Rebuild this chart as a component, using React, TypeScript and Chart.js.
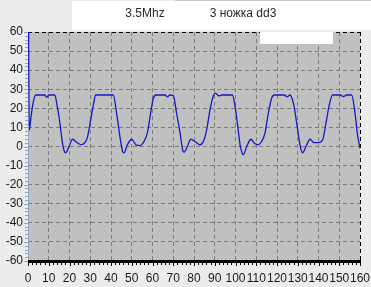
import React, { useEffect, useRef } from "react";
import { Chart, registerables } from "chart.js";

Chart.register(...registerables);

const chartTitleLeft = "3.5Mhz";
const chartTitleRight = "3 ножка dd3";

const xMin = 0;
const xMax = 160;
const yMin = -60;
const yMax = 60;

// sample positions (x) and signal values (y)
const xValues = [
  0, 0.6, 1.5, 2.5, 3.7, 8, 9, 10.1, 12.9, 14.1, 15.4, 16.5, 17.5, 18.2, 19, 19.8, 21.4, 23.8, 25.7, 27.8,
  28.9, 30.2, 31.5, 32.6, 41.1, 42.7, 44.3, 45.6, 46.3, 47.9, 50, 52, 54, 55.9, 57.5, 59.1, 60.4, 61.7,
  66, 67.2, 68.4, 70, 71.6, 73.3, 74.5, 75.2, 76.8, 78.4, 80.5, 82.9, 84.5, 86.1, 87.7, 89.3, 90.4, 92,
  93.3, 98.5, 99.8, 101.1, 102.2, 103.3, 103.8, 105.4, 107.5, 109.1, 111, 112.6, 114.2, 115.8, 117.4,
  118.7, 123.5, 125, 126.3, 127.9, 129.5, 130.8, 131.9, 132.4, 134, 135.9, 137.8, 139.9, 142, 143.6,
  145.2, 146.8, 150.4, 152, 153.6, 156, 157.6, 158.7, 160,
];
const yValues = [
  150, 8.5, 16, 23, 27, 27, 25.8, 27, 27, 21, 12, 2.6, -2.5, -3.3, -2, 0, 3.8, 2, 0.9, 2.6,
  6, 14, 21.8, 27, 27, 17.5, 5.2, -2.6, -3.3, 0.9, 3.8, 0.9, 0.5, 2.6, 7, 17.5, 25.3, 27,
  27, 26, 27, 26.8, 17.5, 7, -1.7, -3, 0, 3.8, 2.6, 0.9, 2.6, 8.7, 19.2, 26.5, 28, 26.5,
  27, 27, 21, 10.5, 0.9, -3.8, -4.3, 0, 3.8, 1.7, 0.9, 2.6, 7, 17.5, 25.3,
  27, 27, 26, 27, 22.7, 12.2, 2.6, -2.6, -3.3, 0, 3.8, 2, 2, 3.5, 12.2,
  21.8, 27, 27, 26.2, 27, 27, 17.5, 7, -1,
];

const FONT = '"Liberation Sans", Arial, sans-serif';

const decorPlugin = {
  id: "decor",
  beforeDraw(chart: any) {
    const ctx = chart.ctx;
    const { width, height } = chart;
    ctx.save();
    ctx.fillStyle = "#ececec";
    ctx.fillRect(0, 0, width, height);
    ctx.fillStyle = "#ffffff";
    ctx.fillRect(72, 1, width - 72, 29);
    ctx.fillStyle = "#c8c8c8";
    ctx.fillRect(175, 0, width - 175, 1);
    const ca = chart.chartArea;
    ctx.fillStyle = "#c0c0c0";
    ctx.fillRect(ca.left, ca.top, ca.right - ca.left, ca.bottom - ca.top);
    ctx.fillStyle = "#2a2a2a";
    ctx.font = `12px ${FONT}`;
    ctx.textAlign = "center";
    ctx.textBaseline = "middle";
    ctx.fillText(chartTitleLeft, 145, 14);
    ctx.fillText(chartTitleRight, 243, 14);
    ctx.restore();
  },
  beforeDatasetsDraw(chart: any) {
    const ctx = chart.ctx;
    const ca = chart.chartArea;
    const xs = chart.scales.x;
    const ys = chart.scales.y;
    ctx.save();
    // top & right dashed black border
    ctx.strokeStyle = "#000000";
    ctx.lineWidth = 1;
    ctx.setLineDash([4, 3]);
    ctx.beginPath();
    ctx.moveTo(ca.left, ca.top + 0.5);
    ctx.lineTo(ca.right, ca.top + 0.5);
    ctx.moveTo(Math.round(ca.right) + 0.5, ca.top);
    ctx.lineTo(Math.round(ca.right) + 0.5, ca.bottom);
    ctx.stroke();
    ctx.setLineDash([]);
    // legend box (empty)
    ctx.fillStyle = "#ffffff";
    ctx.fillRect(260, ca.top, 73, 12);
    // left axis: light blue
    ctx.strokeStyle = "#8aa6c8";
    ctx.beginPath();
    ctx.moveTo(Math.round(ca.left) + 0.5, ca.top);
    ctx.lineTo(Math.round(ca.left) + 0.5, ca.bottom);
    for (let v = yMin; v <= yMax; v += 2) {
      const py = Math.round(ys.getPixelForValue(v)) + 0.5;
      const len = v % 10 === 0 ? 4 : 3;
      ctx.moveTo(ca.left - len, py);
      ctx.lineTo(ca.left, py);
    }
    ctx.stroke();
    // bottom axis: thick black
    ctx.fillStyle = "#000000";
    ctx.fillRect(ca.left, ca.bottom - 1, ca.right - ca.left + 1, 3);
    ctx.strokeStyle = "#000000";
    ctx.beginPath();
    for (let v = xMin; v <= xMax; v += 2) {
      const px = Math.round(xs.getPixelForValue(v)) + 0.5;
      const len = v % 10 === 0 ? 4 : 3;
      ctx.moveTo(px, ca.bottom + 1);
      ctx.lineTo(px, ca.bottom + 1 + len);
    }
    ctx.stroke();
    ctx.restore();
  },
};

export default function App() {
  const ref = useRef<HTMLCanvasElement | null>(null);
  useEffect(() => {
    document.body.style.margin = "0";
    const canvas = ref.current!;
    const points = xValues.map((x, i) => ({ x, y: yValues[i] }));
    const chart = new Chart(canvas, {
      type: "line",
      data: {
        datasets: [
          {
            data: points,
            borderColor: "#1616c8",
            borderWidth: 1.3,
            pointRadius: 0,
            fill: false,
            cubicInterpolationMode: "monotone",
          },
        ],
      },
      options: {
        responsive: false,
        animation: false,
        devicePixelRatio: 1,
        layout: { padding: { top: 32, right: 11, left: 0, bottom: 0 } },
        plugins: {
          legend: { display: false },
          tooltip: { enabled: false },
          title: { display: false },
        },
        scales: {
          x: {
            type: "linear",
            min: xMin,
            max: xMax,
            afterFit(scale: any) {
              scale.height = 26;
              scale.paddingLeft = 0;
              scale.paddingRight = 0;
            },
            ticks: {
              stepSize: 10,
              color: "#1a1a1a",
              font: { family: FONT, size: 12 },
              padding: 10,
              maxRotation: 0,
              autoSkip: false,
            },
            grid: { color: "#7c7c7c", lineWidth: 1, drawTicks: false },
            border: { display: false, dash: [4, 3] },
          },
          y: {
            min: yMin,
            max: yMax,
            afterFit(scale: any) {
              scale.width = 28;
              scale.paddingTop = 0;
              scale.paddingBottom = 0;
            },
            ticks: {
              stepSize: 10,
              color: "#1a1a1a",
              font: { family: FONT, size: 12 },
              padding: 5,
              autoSkip: false,
            },
            grid: { color: "#7c7c7c", lineWidth: 1, drawTicks: false },
            border: { display: false, dash: [4, 3] },
          },
        },
      },
      plugins: [decorPlugin],
    });
    return () => chart.destroy();
  }, []);
  return <canvas ref={ref} width={371} height={287} style={{ display: "block" }} />;
}
